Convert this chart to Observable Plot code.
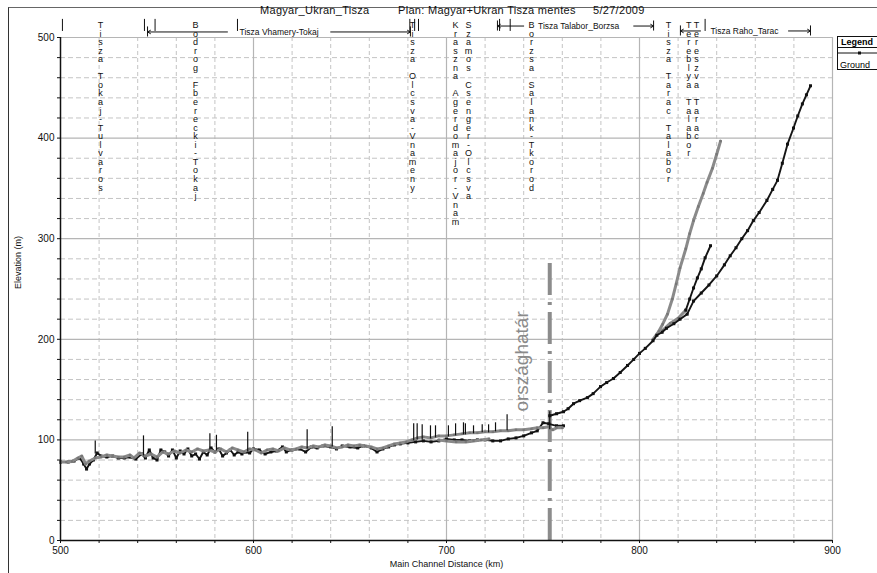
<!DOCTYPE html>
<html><head><meta charset="utf-8">
<script src="https://cdn.jsdelivr.net/npm/d3@7"></script>
<script src="https://cdn.jsdelivr.net/npm/@observablehq/plot@0.6"></script>
<style>
body{margin:0;background:#fff;font-family:"Liberation Sans",Arial,sans-serif;}
#wrap{position:relative;width:877px;height:573px;overflow:hidden;}
#frame{position:absolute;left:8px;top:7px;width:900px;height:600px;border-left:1.5px solid #333;border-top:1.5px solid #666;}
#chart{position:absolute;left:0;top:0;}
.tt{position:absolute;top:4px;font-size:11px;white-space:pre;color:#111;letter-spacing:0.3px}
#legend{position:absolute;left:837px;top:36px;width:60px;height:32px;border:1px solid #111;background:#fff;font-size:9px;}
#legend .h{font-weight:bold;height:10px;line-height:10px;padding-left:3px;border-bottom:1px solid #111;}
#legend .g{padding-left:2px;line-height:10px}
</style></head>
<body><div id="wrap"><div id="frame"></div><div id="chart"></div>
<div class="tt" style="left:260px">Magyar_Ukran_Tisza</div>
<div class="tt" style="left:398px">Plan: Magyar+Ukran Tisza mentes</div>
<div class="tt" style="left:593px">5/27/2009</div>
<div id="legend"><div class="h">Legend</div>
<svg width="60" height="10"><line x1="0" y1="5" x2="60" y2="5" stroke="#111" stroke-width="1"/><rect x="20" y="3.5" width="3" height="3" fill="#111"/></svg>
<div class="g">Ground</div></div>
</div>
<script>
// Lower Tisza (Hungary) ground profiles: [km, elevation m]
const lowerBlack = [[500,78],[504,78],[507,79],[510,82],[512,76],[513.5,71],[515,76],[517,80],[519,87],[521,84],[524,83],[527,84],[530,82],[533,82],[536,83],[539,81],[542,86],[544,82],[546,90],[548,82],[550,80],[552,90],[554,88],[556,84],[558,90],[560,82],[562,89],[564,86],[566,91],[568,84],[570,86],[572,81],[574,88],[576,85],[578,92],[580,88],[582,91],[584,84],[586,87],[588,90],[590,85],[592,88],[594,86],[596,88],[598,87],[600,91],[603,90],[606,86],[609,88],[612,89],[615,93],[617,88],[620,90],[624,91],[627,88],[630,93],[633,92],[636,94],[640,93],[643,91],[646,94],[650,93],[654,92],[657,94],[661,92],[664,88],[667,91],[670,93],[673,95],[676,96],[680,97],[684,98],[688,99],[692,98],[696,99],[700,101],[704,100],[708,100],[712,99],[716,100],[720,100],[724,99],[728,99],[732,101],[736,102],[740,104],[744,107],[747,109],[750,117],[753,116],[757,114],[760.6,114]];
const lowerGray = [[500,78],[503,78],[506,78.5],[509,82],[511,84],[513,76],[515,79],[518,82],[521,83],[524,85],[527,84],[530,83],[533,83],[536,85],[538,82],[541,87],[544,84],[547,86],[550,83],[553,88],[556,86],[559,89],[562,87],[565,90],[568,88],[571,91],[574,89],[577,90],[580,88],[583,91],[586,88],[589,92],[592,90],[595,88],[598,91],[601,90],[604,87],[607,90],[610,91],[613,89],[616,92],[619,90],[622,91],[625,93],[628,92],[631,94],[634,93],[637,95],[640,94],[643,92],[646,93],[649,95],[652,94],[655,95],[658,94],[661,93],[664,91],[667,92],[670,94],[673,96],[676,97],[679,98],[682,100],[685,102],[688,103],[692,102],[696,104],[700,104],[704,105],[708,106],[712,107],[716,107],[720,108],[724,108],[728,109],[732,109],[736,110],[740,110],[744,111],[747,112],[750,112],[753,113],[755,110],[757,112],[760,112]];
const tributaryGray = [[696,100],[700,99],[705,98],[710,98],[714,99],[718,100],[722,101]];
// Upper Tisza (Ukraine) and tributaries
const upperBlack = [[753.5,124],[757,126],[760.6,128],[763,131],[765.8,136],[769,139],[773,142],[776,146],[779.8,153],[783,157],[786.5,161],[790,167],[793.8,174],[797,180],[800,186],[803,191],[807,198.6],[809,204],[811.7,207],[814,211],[817.8,215.5],[821,220],[824.7,225],[828,238],[832,246],[836,254],[840,263],[844,274],[847,283],[850,291],[853,300],[856,308],[859,318],[862,326],[866,338],[869,349],[871.5,358],[874,375],[876.7,394],[879.8,410],[882,422],[884.4,434],[886.5,443],[888.6,452]];
const grayBranch = [[807,200],[810,208],[812,215],[814.5,225],[817,240],[819,255],[821,271],[824,290],[826,305],[828,318],[830.5,332],[833,345],[835,356],[837.8,370],[840,384],[842,397]];
const grayShort = [[812,209],[816,216],[820,221],[824,229]];
const blackBranch = [[824,229],[826,240],[828,251],[830,261],[832,270],[834,281],[836.8,293]];
// structures: [km, ground, top]
const structures = [[518,86,99],[543,84,104],[577.4,90,106],[580.8,89,104.6],[597,88,107.5],[627.8,91,110],[640.8,93,113],[683,99,116],[684.8,100,116],[687.4,100,115],[691.7,101,114],[694.3,102,114],[701,103,114],[704.7,104,116],[708.8,105,117],[709.8,105,116],[714,106,114],[718.5,107,115],[721.8,107,115],[725.4,108,117],[731.4,109,125],[753.5,110,128]];
const borderKm = 753.5;
const borderTop = 276;
const borderLabel = "országhatár";
// river station labels
const stationNames = ["Tisza Tokaj-Tulvaros","Bodrog Fberecki-Tokaj","Tisza Olcsva-Vnameny","Kraszna Agerdomajor-Vnam","Szamos Csenger-Olcsva","Borzsa Salank-Tkorod","Tisza Tarac Talabor","Tereblya Talabor","Tereszva Tarac"];
const stationKm = [520.7,570,682.4,704.7,711.4,744,815,825.5,829.5];
const topTicks = [501,543.5,549,591.7,681,683.5,685.5,727.5,733,834];
// reaches
const reachNames = ["Tisza Vhamery-Tokaj","Tisza Talabor_Borzsa","Tisza Raho_Tarac"];
const reachStart = [545.1,726.4,821.2];
const reachEnd = [681.3,807.3,888.6];
const reachTextFrom = [586.5,740,831.6];
const reachTextTo = [640,797,877.2];
const reachRow = [505.5,511.4,506.5];

const xTicks = d3.range(500,901,20);
const yTicks = d3.range(0,501,20);
const toObj = a => a.map(([km,el]) => ({km,el}));
const reaches = reachNames.map((name,i)=>({name,s:reachStart[i],e:reachEnd[i],a:reachTextFrom[i],b:reachTextTo[i],y:reachRow[i],c:(reachTextFrom[i]+reachTextTo[i])/2}));
const stations = stationNames.map((n,i)=>({km:stationKm[i], t:n.split("").join("\n")}));
const structs = structures.map(([km,lo,hi])=>({km,lo,hi}));

const lineB = (d) => [Plot.line(toObj(d),{x:"km",y:"el",stroke:"#151515",strokeWidth:1.9}), Plot.dot(toObj(d),{x:"km",y:"el",symbol:"square",r:1.7,fill:"#111"})];
const lineG = (d) => [Plot.line(toObj(d),{x:"km",y:"el",stroke:"#8a8a8a",strokeWidth:3}), Plot.dot(toObj(d),{x:"km",y:"el",symbol:"square",r:1.3,fill:"#777"})];

const chart = Plot.plot({
  width: 877, height: 573,
  marginLeft: 60, marginRight: 45, marginTop: 37, marginBottom: 33,
  style: {fontFamily: "Liberation Sans, Arial, sans-serif", fontSize: "10px", background: "transparent", color: "#111"},
  x: {domain: [500,900], ticks: xTicks, tickSize: 3, tickPadding: 3, tickFormat: d => d % 100 === 0 ? d : "", label: null},
  y: {domain: [0,500], ticks: yTicks, tickSize: 3, tickPadding: 3, tickFormat: d => d % 100 === 0 ? d : "", label: null},
  marks: [
    Plot.ruleX(xTicks.filter(d => d % 100 !== 0), {stroke: "#c4c4c4", strokeDasharray: "4,3"}),
    Plot.ruleY(yTicks.filter(d => d % 100 !== 0), {stroke: "#c4c4c4", strokeDasharray: "5,3"}),
    Plot.ruleX(xTicks.filter(d => d % 100 === 0 && d > 500), {stroke: "#b5b5b5", strokeWidth: 1.2}),
    Plot.ruleY(yTicks.filter(d => d % 100 === 0 && d > 0), {stroke: "#b5b5b5", strokeWidth: 1.2}),
    Plot.ruleX([borderKm], {y1: 0, y2: borderTop, stroke: "#8c8c8c", strokeWidth: 4, strokeDasharray: "32,7,3,7"}),
    Plot.text([borderLabel], {x: [borderKm], y: [178], dx: -28, rotate: -90, fontSize: 19, fill: "#8a8a8a"}),
    ...lineB(lowerBlack),
    ...lineG(lowerGray),
    ...lineG(tributaryGray),
    Plot.ruleX(structs, {x: "km", y1: "lo", y2: "hi", stroke: "#111", strokeWidth: 1.2}),
    ...lineG(grayBranch),
    ...lineG(grayShort),
    ...lineB(upperBlack),
    ...lineB(blackBranch),
    Plot.ruleX([500], {stroke: "#111", strokeWidth: 1.5}),
    Plot.ruleY([0], {stroke: "#111", strokeWidth: 1.5}),
    Plot.text(stations, {x: "km", y: 515.4, text: "t", lineAnchor: "top", fontSize: 9, lineHeight: 0.95, fill: "#111"}),
    Plot.ruleX(topTicks, {y1: 506, y2: 518, stroke: "#111"}),
    Plot.arrow(reaches, {x1: "a", x2: "s", y1: "y", y2: "y", stroke: "#111", strokeWidth: 1, headLength: 5, insetEnd: 0}),
    Plot.arrow(reaches, {x1: "b", x2: "e", y1: "y", y2: "y", stroke: "#111", strokeWidth: 1, headLength: 5, insetEnd: 0}),
    Plot.ruleX(reaches, {x: "s", y1: d => d.y - 5, y2: d => d.y + 5, stroke: "#111"}),
    Plot.ruleX(reaches, {x: "e", y1: d => d.y - 5, y2: d => d.y + 5, stroke: "#111"}),
    Plot.text(reaches, {x: "c", y: "y", text: "name", fontSize: 8.5, fill: "#111"}),
    Plot.text(["Main Channel Distance (km)"], {frameAnchor: "bottom", dy: 26, fontSize: 9}),
    Plot.text(["Elevation (m)"], {frameAnchor: "left", dx: -42, rotate: -90, fontSize: 9})
  ]
});
document.getElementById("chart").appendChild(chart);
</script>
</body></html>
